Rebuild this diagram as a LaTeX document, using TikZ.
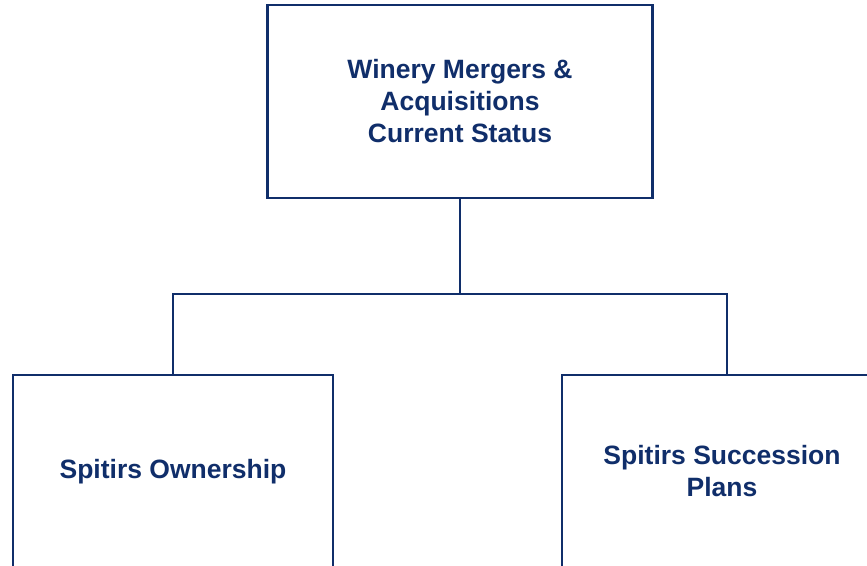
\documentclass[tikz,border=0pt]{standalone}
\usepackage{fontspec}
\setmainfont{Liberation Sans}
\definecolor{navy}{RGB}{16,46,106}
\begin{document}
\begin{tikzpicture}[x=1pt,y=1pt,
  box/.style={draw=navy, line width=2.8pt, fill=white, minimum width=#1, minimum height=193pt,
    inner sep=0pt, outer sep=0pt, align=center, text=navy,
    font=\fontsize{26.5}{32}\selectfont\bfseries},
  conn/.style={draw=navy, line width=2.8pt}]
\clip (0,0) rectangle (867,565);
\useasboundingbox (0,0) rectangle (867,565);
\fill[white] (0,0) rectangle (867,565);
\node[box=385pt] (top) at (460,463.5) {Winery Mergers \&\\Acquisitions\\Current Status};
\node[box=320pt] (left) at (173,93.5) {Spitirs Ownership};
\node[box=320pt] (right) at (722,93.5) {Spitirs Succession\\Plans};
\coordinate (bar) at (460,271);
\coordinate (rdrop) at ([xshift=5pt]right.north);
\draw[conn] (top.south) -- (bar);
\draw[conn] (left.north) |- (bar) -| (rdrop);
\end{tikzpicture}
\end{document}
